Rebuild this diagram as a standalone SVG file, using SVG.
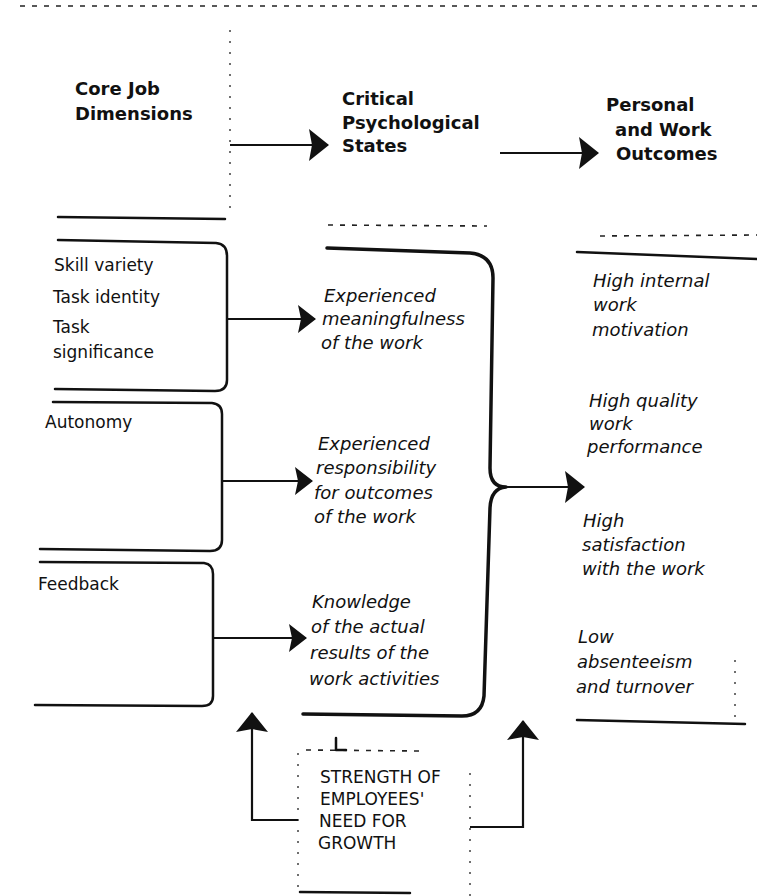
<svg xmlns="http://www.w3.org/2000/svg" width="757" height="896" viewBox="0 0 757 896">
<style>
.hd{font-family:"DejaVu Sans",sans-serif;font-weight:bold;font-size:18px;fill:#111}
.lt{font-family:"DejaVu Sans",sans-serif;font-size:17px;fill:#111}
.it{font-family:"DejaVu Sans",sans-serif;font-style:italic;font-size:18px;fill:#111}
.bx{font-family:"DejaVu Sans",sans-serif;font-size:17px;fill:#111}
.ln{fill:none;stroke:#111;stroke-width:2.5;stroke-linecap:round;stroke-linejoin:round}
.bb{fill:none;stroke:#111;stroke-width:3.5;stroke-linecap:round;stroke-linejoin:round}
.ar{fill:none;stroke:#111;stroke-width:2.2}
.ds{fill:none;stroke:#222;stroke-width:1.6;stroke-dasharray:5 7}
.dt{fill:none;stroke:#333;stroke-width:1.4;stroke-dasharray:2 9}
</style>
<defs>
<marker id="ah" viewBox="0 0 18 28" refX="17" refY="14" markerWidth="18" markerHeight="28" markerUnits="userSpaceOnUse" orient="auto">
<path d="M0,0 L18,14 L0,28 L3,14 Z" fill="#111"/>
</marker>
<marker id="ahb" viewBox="0 0 20 32" refX="19" refY="16" markerWidth="20" markerHeight="32" markerUnits="userSpaceOnUse" orient="auto">
<path d="M0,0 L20,16 L0,32 L3,16 Z" fill="#111"/>
</marker>
</defs>
<rect width="757" height="896" fill="#fff"/>

<g id="scan-marks">
<path class="ds" d="M20,6 L757,6"/>
<path class="dt" d="M230,30 L230,212"/>
<path class="ds" d="M328,225 L487,226"/>
<path class="ds" d="M600,236 L757,235"/>
<path class="dt" d="M735,660 L735,725"/>
</g>

<g id="header-core">
<text class="hd" x="75" y="95">Core Job</text>
<text class="hd" x="75" y="120">Dimensions</text>
<path class="ln" d="M58,217 L225,219"/>
</g>
<g id="header-critical">
<text class="hd" x="342" y="105">Critical</text>
<text class="hd" x="342" y="129">Psychological</text>
<text class="hd" x="342" y="152">States</text>
</g>
<g id="header-outcomes">
<text class="hd" x="606" y="111">Personal</text>
<text class="hd" x="615" y="136">and Work</text>
<text class="hd" x="616" y="160">Outcomes</text>
</g>

<g id="dim-group1">
<path class="ln" d="M58,240 L216,243 Q227,244 227,256 L227,380 Q227,391 215,391 L55,389"/>
<text class="lt" x="54" y="271">Skill variety</text>
<text class="lt" x="53" y="303">Task identity</text>
<text class="lt" x="53" y="333">Task</text>
<text class="lt" x="53" y="358">significance</text>
</g>
<g id="dim-autonomy">
<path class="ln" d="M53,402 L212,403 Q222,404 222,414 L222,540 Q222,551 210,551 L40,549"/>
<text class="lt" x="45" y="428">Autonomy</text>
</g>
<g id="dim-feedback">
<path class="ln" d="M40,562 L204,563 Q213,564 213,574 L213,696 Q213,706 202,706 L35,705"/>
<text class="lt" x="38" y="590">Feedback</text>
</g>

<g id="state-meaningfulness">
<text class="it" x="324" y="302">Experienced</text>
<text class="it" x="322" y="325">meaningfulness</text>
<text class="it" x="321" y="349">of the work</text>
</g>
<g id="state-responsibility">
<text class="it" x="318" y="450">Experienced</text>
<text class="it" x="316" y="474">responsibility</text>
<text class="it" x="314" y="499">for outcomes</text>
<text class="it" x="314" y="523">of the work</text>
</g>
<g id="state-knowledge">
<text class="it" x="312" y="608">Knowledge</text>
<text class="it" x="311" y="633">of the actual</text>
<text class="it" x="310" y="659">results of the</text>
<text class="it" x="309" y="685">work activities</text>
</g>

<g id="outcomes">
<path class="ln" d="M577,252 L757,259"/>
<text class="it" x="593" y="287">High internal</text>
<text class="it" x="593" y="311">work</text>
<text class="it" x="592" y="336">motivation</text>
<text class="it" x="589" y="407">High quality</text>
<text class="it" x="589" y="430">work</text>
<text class="it" x="587" y="453">performance</text>
<text class="it" x="583" y="527">High</text>
<text class="it" x="582" y="551">satisfaction</text>
<text class="it" x="582" y="575">with the work</text>
<text class="it" x="578" y="643">Low</text>
<text class="it" x="577" y="668">absenteeism</text>
<text class="it" x="576" y="693">and turnover</text>
<path class="ln" d="M577,720 L745,724"/>
</g>

<g id="growth-need">
<path class="dt" d="M298,753 L298,887"/>
<path class="dt" d="M470,773 L470,896"/>
<path class="ds" d="M306,750 L420,751"/>
<path class="ln" d="M336,738 L336,750 L346,750" stroke-width="1.8"/>
<path class="ln" d="M300,892 L410,893"/>
<text class="bx" x="320" y="783">STRENGTH OF</text>
<text class="bx" x="320" y="805">EMPLOYEES'</text>
<text class="bx" x="319" y="827">NEED FOR</text>
<text class="bx" x="318" y="849">GROWTH</text>
</g>

<g id="connectors">
<path class="ar" d="M230,145 L328,145" marker-end="url(#ahb)"/>
<path class="ar" d="M500,153 L598,153" marker-end="url(#ahb)"/>
<path class="ar" d="M227,319 L315,319" marker-end="url(#ah)"/>
<path class="ar" d="M222,481 L312,481" marker-end="url(#ah)"/>
<path class="ar" d="M213,638 L306,638" marker-end="url(#ah)"/>
<path class="bb" d="M327,248 L470,253 Q493,255 493,278 L490,468 Q490,487 506,487 Q491,488 490,508 L484,696 Q482,716 462,716 L303,714"/>
<path class="ar" d="M504,487 L584,487" marker-end="url(#ahb)"/>
<path class="ar" d="M298,820 L252,820 L252,713" marker-end="url(#ahb)"/>
<path class="ar" d="M470,827 L523,827 L523,721" marker-end="url(#ahb)"/>
</g>
</svg>
